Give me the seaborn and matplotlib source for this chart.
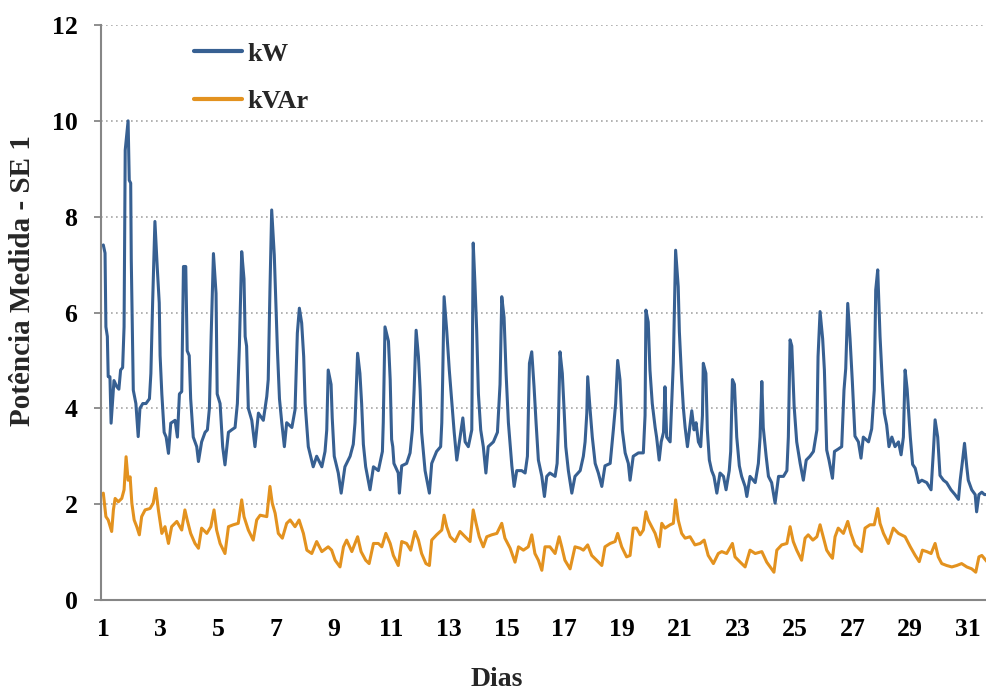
import matplotlib
matplotlib.use("Agg")
import matplotlib.pyplot as plt
import seaborn as sns
import pandas as pd

# ---------------- data ----------------
kw_dias = [1.01,1.07,1.10,1.15,1.18,1.24,1.28,1.34,1.38,1.48,1.55,1.61,1.68,1.73,1.77,1.87,1.91,1.96,1.98,2.02,
           2.05,2.14,2.22,2.28,2.38,2.49,2.61,2.66,2.72,2.80,2.88,2.95,2.98,3.04,3.12,3.19,3.27,3.35,3.50,3.58,
           3.65,3.73,3.79,3.87,3.92,3.99,4.04,4.13,4.25,4.31,4.42,4.54,4.62,4.69,4.75,4.83,4.92,4.96,5.06,5.15,
           5.23,5.35,5.46,5.58,5.66,5.73,5.81,5.89,5.93,5.98,6.04,6.16,6.27,6.39,6.56,6.68,6.73,6.79,6.85,6.94,
           6.99,7.05,7.12,7.20,7.29,7.37,7.55,7.66,7.74,7.81,7.89,7.96,8.01,8.12,8.29,8.41,8.59,8.70,8.76,8.81,
           8.91,8.95,9.02,9.16,9.26,9.39,9.57,9.68,9.74,9.83,9.91,9.97,10.03,10.11,10.26,10.38,10.55,10.69,10.72,10.78,
           10.90,10.96,11.01,11.05,11.09,11.24,11.28,11.36,11.53,11.65,11.73,11.79,11.86,11.94,12.00,12.05,12.17,12.32,12.40,12.57,
           12.71,12.75,12.78,12.83,12.92,13.01,13.10,13.18,13.27,13.36,13.48,13.56,13.67,13.79,13.84,13.90,13.96,14.02,14.10,14.19,
           14.28,14.36,14.54,14.68,14.77,14.83,14.91,14.98,15.06,15.18,15.26,15.35,15.52,15.64,15.72,15.79,15.87,15.95,16.02,16.10,
           16.22,16.31,16.39,16.50,16.68,16.75,16.79,16.85,16.93,16.99,17.05,17.14,17.26,17.37,17.55,17.66,17.72,17.78,17.81,17.89,
           17.97,18.07,18.18,18.30,18.41,18.59,18.70,18.78,18.85,18.93,19.01,19.11,19.22,19.28,19.39,19.57,19.74,19.80,19.83,19.91,
           19.97,20.05,20.15,20.20,20.29,20.36,20.44,20.49,20.55,20.67,20.78,20.86,20.95,20.99,21.07,21.13,21.19,21.27,21.34,21.42,
           21.50,21.57,21.65,21.73,21.79,21.82,21.91,21.96,22.03,22.11,22.19,22.29,22.40,22.52,22.61,22.72,22.77,22.83,22.90,22.98,
           23.07,23.15,23.27,23.33,23.44,23.62,23.73,23.79,23.85,23.90,24.00,24.08,24.19,24.31,24.43,24.60,24.72,24.77,24.83,24.89,
           24.97,25.06,25.18,25.29,25.39,25.52,25.64,25.76,25.80,25.87,25.96,26.02,26.10,26.18,26.30,26.37,26.50,26.62,26.70,26.76,
           26.83,26.91,26.99,27.08,27.20,27.29,27.37,27.46,27.55,27.66,27.75,27.80,27.87,27.95,28.03,28.10,28.18,28.26,28.36,28.47,
           28.59,28.68,28.76,28.82,28.89,29.00,29.08,29.17,29.29,29.40,29.57,29.72,29.80,29.86,29.95,30.03,30.15,30.26,30.41,30.55,
           30.67,30.73,30.81,30.88,30.96,31.01,31.13,31.25,31.30,31.38,31.48,31.57,31.66]
kw_valores = [7.41,7.24,5.7,5.5,4.66,4.66,3.69,4.24,4.58,4.45,4.4,4.8,4.85,5.7,9.39,10.0,8.76,8.7,7.1,5.6,
              4.38,4.1,3.41,4.0,4.1,4.1,4.2,4.73,6.19,7.9,6.95,6.2,5.1,4.3,3.5,3.4,3.06,3.69,3.75,3.4,
              4.3,4.35,6.96,6.96,5.2,5.1,4.2,3.4,3.2,2.89,3.3,3.5,3.55,4.0,5.5,7.23,6.4,4.3,4.1,3.2,
              2.82,3.5,3.55,3.6,4.1,5.3,7.27,6.7,5.5,5.3,4.0,3.75,3.2,3.9,3.75,4.25,4.6,6.47,8.14,7.2,
              6.26,5.2,4.2,3.7,3.2,3.7,3.6,3.97,5.57,6.09,5.78,5.08,4.1,3.2,2.78,3.0,2.78,3.1,3.55,4.8,
              4.5,3.8,3.0,2.65,2.23,2.78,3.0,3.25,3.7,5.15,4.73,4.1,3.25,2.78,2.3,2.78,2.7,3.1,3.7,5.7,
              5.4,4.6,3.35,3.2,2.85,2.65,2.23,2.8,2.85,3.07,3.55,4.38,5.63,5.08,4.38,3.5,2.7,2.23,2.85,3.1,
              3.2,3.7,4.6,6.33,5.63,4.8,4.1,3.5,2.92,3.3,3.8,3.3,3.2,3.55,7.45,6.6,5.63,4.3,3.55,3.2,
              2.65,3.2,3.3,3.5,4.5,6.33,5.9,4.73,3.7,2.8,2.37,2.7,2.7,2.65,3.0,4.94,5.18,4.45,3.7,2.92,
              2.58,2.16,2.58,2.65,2.58,2.85,3.55,5.18,4.73,4.0,3.2,2.7,2.23,2.58,2.7,3.0,3.3,3.9,4.66,4.0,
              3.4,2.85,2.65,2.37,2.8,2.85,3.55,4.1,5.0,4.6,3.55,3.07,2.85,2.5,3.0,3.07,3.07,3.85,6.05,5.8,
              4.8,4.1,3.6,3.4,2.92,3.3,3.5,4.45,3.4,3.3,4.94,7.3,6.54,5.6,4.6,4.0,3.6,3.2,3.55,3.95,
              3.55,3.7,3.3,3.2,3.85,4.94,4.73,3.55,2.92,2.7,2.58,2.23,2.65,2.58,2.3,2.7,3.1,4.6,4.5,3.4,
              2.8,2.58,2.37,2.16,2.58,2.45,2.85,3.4,4.56,3.6,3.0,2.58,2.45,2.02,2.58,2.58,2.7,3.4,5.43,5.3,
              4.05,3.3,2.85,2.5,2.92,3.0,3.1,3.55,5.08,6.02,5.45,4.8,3.13,2.92,2.54,3.1,3.15,3.2,4.38,4.83,
              6.19,5.45,4.55,3.42,3.3,2.96,3.4,3.35,3.3,3.57,4.38,6.47,6.89,5.5,4.55,3.9,3.65,3.2,3.4,3.2,
              3.3,3.03,3.4,4.8,4.4,3.4,2.83,2.75,2.45,2.5,2.45,2.3,3.1,3.76,3.4,2.6,2.5,2.45,2.3,2.2,
              2.1,2.5,2.9,3.27,2.77,2.5,2.3,2.2,1.84,2.2,2.25,2.2,2.2]

kvar_dias = [1.01,1.10,1.18,1.30,1.36,1.42,1.53,1.65,1.73,1.80,1.87,1.94,2.00,2.08,2.17,2.26,2.34,2.46,2.63,2.74,
             2.83,2.92,3.04,3.15,3.27,3.38,3.56,3.73,3.84,3.92,4.04,4.19,4.31,4.42,4.60,4.74,4.85,4.94,5.06,5.23,
             5.35,5.52,5.69,5.81,5.89,5.98,6.04,6.21,6.33,6.45,6.68,6.79,6.87,6.97,7.08,7.22,7.37,7.49,7.66,7.80,
             7.95,8.07,8.24,8.41,8.59,8.81,8.93,9.05,9.22,9.34,9.45,9.63,9.83,9.95,10.11,10.23,10.38,10.55,10.67,10.81,
             10.96,11.07,11.24,11.36,11.53,11.67,11.82,11.94,12.05,12.20,12.32,12.40,12.57,12.75,12.83,12.92,13.04,13.21,13.38,13.56,
             13.73,13.84,13.94,14.05,14.19,14.31,14.48,14.66,14.83,14.94,15.12,15.29,15.41,15.58,15.75,15.87,15.98,16.10,16.22,16.33,
             16.50,16.68,16.82,16.91,17.02,17.20,17.37,17.55,17.66,17.81,17.95,18.12,18.30,18.41,18.59,18.76,18.85,18.99,19.16,19.28,
             19.39,19.51,19.63,19.74,19.83,19.91,20.03,20.15,20.29,20.38,20.49,20.67,20.78,20.86,20.95,21.07,21.19,21.36,21.53,21.71,
             21.85,21.99,22.17,22.34,22.46,22.63,22.83,22.92,23.10,23.27,23.44,23.62,23.85,24.02,24.14,24.27,24.37,24.54,24.72,24.83,
             24.94,25.06,25.23,25.35,25.46,25.62,25.76,25.87,25.98,26.10,26.22,26.30,26.39,26.50,26.68,26.83,26.94,27.08,27.20,27.31,
             27.43,27.60,27.75,27.87,27.95,28.07,28.24,28.41,28.59,28.82,29.00,29.17,29.31,29.42,29.57,29.72,29.86,29.97,30.09,30.26,
             30.44,30.61,30.78,30.96,31.13,31.27,31.38,31.48,31.66]
kvar_valores = [2.23,1.74,1.67,1.43,1.88,2.12,2.05,2.12,2.30,2.99,2.50,2.57,2.02,1.67,1.53,1.36,1.74,1.88,1.91,2.02,
                2.33,1.88,1.39,1.53,1.18,1.53,1.64,1.46,1.88,1.67,1.39,1.18,1.08,1.50,1.39,1.53,1.88,1.46,1.18,0.97,
                1.53,1.57,1.6,2.09,1.74,1.57,1.46,1.25,1.67,1.77,1.74,2.37,2.02,1.81,1.39,1.29,1.6,1.67,1.53,1.67,
                1.39,1.04,0.97,1.22,1.01,1.11,1.04,0.83,0.69,1.11,1.25,1.01,1.32,1.01,0.83,0.76,1.18,1.18,1.11,1.39,
                1.18,0.93,0.72,1.22,1.18,1.04,1.43,1.25,0.97,0.76,0.72,1.25,1.36,1.46,1.77,1.53,1.32,1.22,1.43,1.32,
                1.22,1.88,1.6,1.32,1.11,1.32,1.36,1.39,1.6,1.29,1.08,0.79,1.11,1.04,1.11,1.36,0.97,0.83,0.62,1.11,
                1.11,0.97,1.32,1.11,0.83,0.65,1.11,1.08,1.04,1.15,0.93,0.83,0.72,1.11,1.18,1.22,1.39,1.11,0.90,0.93,
                1.50,1.50,1.36,1.46,1.84,1.67,1.53,1.39,1.11,1.6,1.50,1.57,1.6,2.09,1.67,1.39,1.29,1.32,1.15,1.18,
                1.25,0.93,0.76,0.97,1.01,0.97,1.18,0.90,0.79,0.69,1.04,0.97,1.01,0.79,0.69,0.58,1.04,1.15,1.18,1.53,
                1.22,1.04,0.83,1.29,1.36,1.25,1.32,1.57,1.32,1.04,0.93,0.87,1.32,1.50,1.39,1.64,1.39,1.15,1.08,1.01,
                1.50,1.57,1.57,1.91,1.6,1.39,1.18,1.50,1.39,1.32,1.11,0.93,0.80,1.04,1.01,0.97,1.18,0.90,0.76,0.72,
                0.69,0.72,0.76,0.69,0.65,0.58,0.90,0.93,0.80]

series_nomes = ["kW", "kVAr"]
series_cores = ["#376092", "#E3921F"]
x_ticks = list(range(1, 32, 2))
y_ticks = list(range(0, 13, 2))
x_rotulo = "Dias"
y_rotulo = "Potência Medida - SE 1"

# ---------------- figure ----------------
sns.set_theme(style="white")
plt.rcParams["font.family"] = ["Liberation Serif", "DejaVu Serif"]
plt.rcParams["font.weight"] = "bold"

fig = plt.figure(figsize=(9.87, 6.91), dpi=100)
ax = fig.add_axes([101 / 987, 91 / 691, 886 / 987, 575 / 691])

df_kw = pd.DataFrame({"dia": kw_dias, "valor": kw_valores})
df_kvar = pd.DataFrame({"dia": kvar_dias, "valor": kvar_valores})

sns.lineplot(data=df_kw, x="dia", y="valor", ax=ax, color=series_cores[0],
             linewidth=2.2, label=series_nomes[0], estimator=None, sort=False)
sns.lineplot(data=df_kvar, x="dia", y="valor", ax=ax, color=series_cores[1],
             linewidth=2.2, label=series_nomes[1], estimator=None, sort=False)

ax.set_xlim(0.93, 31.66)
ax.set_ylim(0, 12)
ax.set_xticks(x_ticks)
ax.set_yticks(y_ticks)
ax.set_xticklabels([str(v) for v in x_ticks], fontsize=18.5, fontweight="bold")
ax.set_yticklabels([str(v) for v in y_ticks], fontsize=18.5, fontweight="bold")

ax.yaxis.grid(True, linestyle=(0, (1, 2)), color="#A6A6A6", linewidth=1.2)
ax.xaxis.grid(False)
ax.set_axisbelow(True)

for s in ["top", "right"]:
    ax.spines[s].set_visible(False)
for s in ["left", "bottom"]:
    ax.spines[s].set_color("#868686")
    ax.spines[s].set_linewidth(1.5)

ax.tick_params(axis="x", length=0, pad=13, colors="black")
ax.tick_params(axis="y", length=5, width=1.3, color="#868686", pad=12, labelcolor="black",
               direction="out", left=True)

ax.set_xlabel(x_rotulo, fontsize=20, fontweight="bold")
ax.set_ylabel(y_rotulo, fontsize=21, fontweight="bold")
ax.xaxis.set_label_coords(0.447, -0.116)
ax.yaxis.set_label_coords(-0.073, 0.555)

leg = ax.legend(loc="upper left", bbox_to_anchor=(181 / 987, 1 - 29 / 691),
                bbox_transform=fig.transFigure, frameon=False, borderpad=0,
                handlelength=1.8, handletextpad=0.2, labelspacing=0.9,
                prop={"family": ["Liberation Serif"], "weight": "bold", "size": 19})
for h in leg.get_lines():
    h.set_linewidth(3)

fig.savefig("out.png", dpi=100)
